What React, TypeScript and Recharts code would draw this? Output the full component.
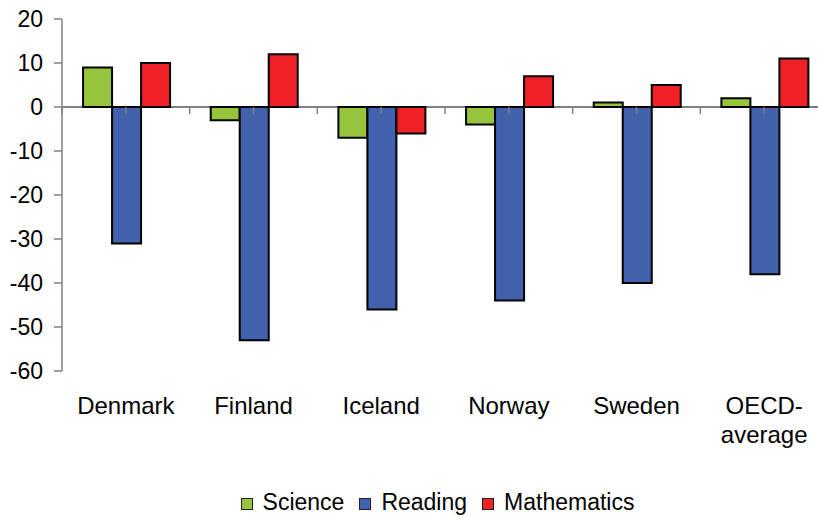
import { BarChart, Bar, XAxis, YAxis, ReferenceLine, Legend } from 'recharts';

const CATEGORIES = ['Denmark', 'Finland', 'Iceland', 'Norway', 'Sweden', 'OECD-average'];
const SCIENCE = [9, -3, -7, -4, 1, 2];
const READING = [-31, -53, -46, -44, -40, -38];
const MATHEMATICS = [10, 12, -6, 7, 5, 11];
const Y_TICKS = [-60, -50, -40, -30, -20, -10, 0, 10, 20];

const SERIES = [
  { key: 'science', name: 'Science', color: '#96c43c' },
  { key: 'reading', name: 'Reading', color: '#4262ae' },
  { key: 'mathematics', name: 'Mathematics', color: '#ee2124' },
];

const data = CATEGORIES.map((name, i) => ({
  name,
  science: SCIENCE[i],
  reading: READING[i],
  mathematics: MATHEMATICS[i],
}));

const FONT = 'Arial, "Liberation Sans", sans-serif';
const AXIS_GREY = '#808080';

function CategoryTick(props: any) {
  const { x, y, payload } = props;
  const lines = String(payload.value).split(/(?<=-)/);
  return (
    <text x={x} y={y} textAnchor="middle" fontSize={24} fontFamily={FONT} fill="#000">
      {lines.map((l, i) => (
        <tspan key={i} x={x} dy={i === 0 ? '0.71em' : 29}>
          {l}
        </tspan>
      ))}
    </text>
  );
}

// tick marks hanging below the zero line, one at every half category
function ZeroTicks(props: any) {
  const { x1, x2, y1 } = props;
  const n = CATEGORIES.length * 2;
  const step = (x2 - x1) / n;
  return (
    <g>
      {Array.from({ length: n + 1 }, (_, i) => (
        <line key={i} x1={x1 + i * step} x2={x1 + i * step} y1={y1} y2={y1 + 7} stroke={AXIS_GREY} strokeWidth={1.5} />
      ))}
    </g>
  );
}

function LegendContent() {
  return (
    <div
      style={{
        display: 'flex',
        justifyContent: 'center',
        alignItems: 'center',
        fontFamily: FONT,
        fontSize: 23,
        lineHeight: '24px',
        color: '#000',
      }}
    >
      {SERIES.map((s) => (
        <div key={s.key} style={{ display: 'flex', alignItems: 'center', marginRight: 15 }}>
          <span
            style={{
              display: 'inline-block',
              width: 10,
              height: 10,
              background: s.color,
              border: '1.5px solid #222',
              marginRight: 10,
              marginTop: 4,
            }}
          />
          <span>{s.name}</span>
        </div>
      ))}
    </div>
  );
}

export default function App() {
  return (
    <div style={{ position: 'absolute', left: 0, top: 0, width: 818, height: 517, overflow: 'hidden', background: '#fff' }}>
      <BarChart
        width={830}
        height={517}
        data={data}
        margin={{ top: 19, right: 2, left: 0, bottom: 0 }}
        barCategoryGap="16.5%"
        barGap={0}
      >
        <XAxis
          dataKey="name"
          axisLine={false}
          tickLine={false}
          tickSize={0}
          tickMargin={26}
          height={146}
          interval={0}
          tick={<CategoryTick />}
        />
        <YAxis
          domain={[-60, 20]}
          ticks={Y_TICKS}
          width={62}
          interval={0}
          axisLine={{ stroke: AXIS_GREY, strokeWidth: 1.5 }}
          tickLine={{ stroke: AXIS_GREY, strokeWidth: 1.5 }}
          tickSize={8}
          tickMargin={11}
          tick={{ fontSize: 23, fontFamily: FONT, fill: '#000' }}
        />
        <ReferenceLine y={0} stroke={AXIS_GREY} strokeWidth={2} zIndex={100} />
        {SERIES.map((s) => (
          <Bar
            key={s.key}
            dataKey={s.key}
            name={s.name}
            fill={s.color}
            stroke="#000"
            strokeWidth={2}
            isAnimationActive={false}
          />
        ))}
        <ReferenceLine y={0} shape={<ZeroTicks />} zIndex={1500} />
        <Legend
          verticalAlign="middle"
          layout="horizontal"
          content={<LegendContent />}
          wrapperStyle={{ left: 0, top: 490, width: 890 }}
        />
      </BarChart>
    </div>
  );
}
